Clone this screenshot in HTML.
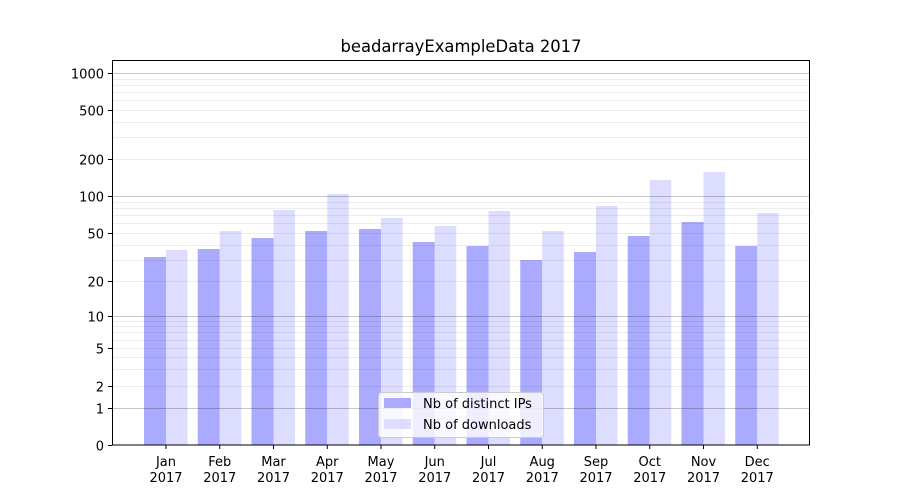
<!DOCTYPE html>
<html><head><style>body{margin:0;background:#fff}svg{display:block;font-family:"DejaVu Sans","Liberation Sans",sans-serif}</style></head>
<body>
<svg id="s" width="900" height="500" xmlns="http://www.w3.org/2000/svg">
<rect width="900" height="500" fill="#fff"/>
<text x="461" y="52" font-size="16.4" text-anchor="middle">beadarrayExampleData 2017</text>
<g id="bars"></g>
<g id="grid"></g>
<rect x="112.5" y="60.5" width="697" height="384.5" fill="none" stroke="#000" stroke-width="1"/>
<g id="ticks" font-size="13"></g>
<g>
<rect x="378.5" y="392.5" width="165" height="45" rx="3" fill="#fff" fill-opacity="0.8" stroke="#ccc"/>
<rect x="384" y="398" width="27" height="10" fill="#aaaaff"/>
<rect x="384" y="419" width="27" height="10" fill="#ddddff"/>
<text x="423" y="408" font-size="13">Nb of distinct IPs</text>
<text x="423" y="429" font-size="13">Nb of downloads</text>
</g>
</svg>
<script>
const ns="http://www.w3.org/2000/svg";
function el(p,t,a,txt){const e=document.createElementNS(ns,t);for(const k in a)e.setAttribute(k,a[k]);if(txt!=null)e.textContent=txt;document.getElementById(p).appendChild(e);return e;}
const T=[[1,408],[2,386],[5,348],[10,316],[20,281],[50,233],[100,196],[200,159],[500,110],[1000,73]];
function Y(v){if(v<=1)return 445-37*v;for(let i=0;i<T.length-1;i++){const[a,ya]=T[i],[b,yb]=T[i+1];if(v<=b){return ya+(yb-ya)*Math.log(v/a)/Math.log(b/a);}}return 73;}
const blue=[257,249,238,231,229,242,246,260,252,236,222,246];
const light=[250,231,210,194,218,226,211,231,206,180,172,213];
const mon=["Jan","Feb","Mar","Apr","May","Jun","Jul","Aug","Sep","Oct","Nov","Dec"];
for(let i=0;i<12;i++){const c=166+53.75*i;
el("bars","rect",{x:c-22,y:blue[i],width:22,height:445-blue[i],fill:"#aaaaff"});
el("bars","rect",{x:c,y:light[i],width:21.5,height:445-light[i],fill:"#ddddff"});
el("ticks","line",{x1:c,x2:c,y1:445,y2:449,stroke:"#000"});
el("ticks","text",{x:c,y:466,"text-anchor":"middle"},mon[i]);
el("ticks","text",{x:c,y:482,"text-anchor":"middle"},"2017");}
for(const d of [1,10,100]){for(let m=2;m<=9;m++){const y=Math.round(Y(d*m))+.5;el("grid","line",{x1:113,x2:810,y1:y,y2:y,stroke:"#000","stroke-opacity":0.07});}}
for(const v of [1,10,100,1000]){const y=Math.round(Y(v))+.5;el("grid","line",{x1:113,x2:810,y1:y,y2:y,stroke:"#000","stroke-opacity":0.22});}
for(const v of [0,1,2,5,10,20,50,100,200,500,1000]){const y=Math.round(Y(v))+.5;el("ticks","line",{x1:108,x2:112,y1:y,y2:y,stroke:"#000"});el("ticks","text",{x:104,y:y+5,"text-anchor":"end"},String(v));}
</script>
</body></html>
